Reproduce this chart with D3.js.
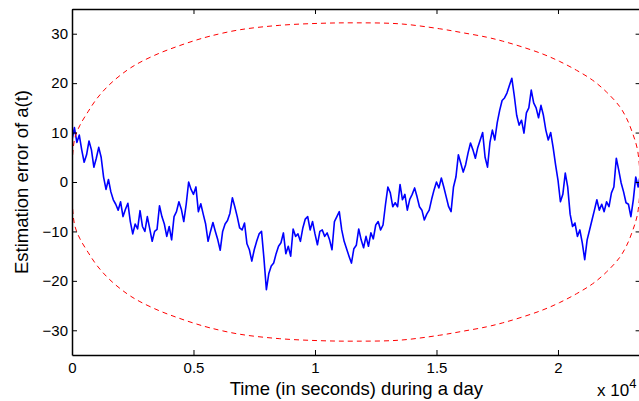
<!DOCTYPE html>
<html>
<head>
<meta charset="utf-8">
<script src="https://d3js.org/d3.v7.min.js"></script>
<style>
  body { margin: 0; background: #fff; }
  svg { display: block; font-family: "Liberation Sans", Arial, sans-serif; }
</style>
</head>
<body>
<svg id="drawing_region"></svg>
<script>
// error samples, one every 100 s from t = 0 to t = 23400
const errStep = 100;
const errValues = [
    8.5, 11.0, 8.0, 9.5, 6.5, 4.0, 5.5, 8.3, 6.5, 3.0,
    4.8, 7.0, 5.0, 1.0, -1.5, 0.5, -2.0, -3.6, -4.5, -5.7,
    -4.0, -7.0, -5.5, -4.3, -8.0, -10.5, -8.5, -9.5, -5.8, -9.0,
    -10.0, -7.0, -9.5, -12.0, -10.0, -9.6, -4.8, -7.0, -8.5, -11.0,
    -9.0, -11.7, -7.0, -6.0, -4.0, -5.5, -8.0, -4.5, 0.0, -1.5,
    -2.5, -1.0, -6.0, -4.4, -6.5, -8.5, -12.0, -10.0, -8.2, -10.0,
    -11.7, -13.8, -10.0, -8.5, -7.8, -6.3, -3.2, -5.0, -7.0, -9.3,
    -9.7, -8.3, -12.5, -13.7, -16.0, -13.7, -12.0, -10.5, -10.0, -15.5,
    -21.8, -18.5, -17.0, -16.4, -14.5, -13.0, -12.3, -10.3, -14.5, -13.0,
    -15.0, -9.5, -11.0, -10.5, -12.0, -9.3, -7.5, -7.0, -9.7, -8.0,
    -10.5, -12.7, -10.0, -9.7, -11.0, -10.3, -11.7, -13.7, -8.0, -7.0,
    -6.0, -9.7, -12.0, -13.5, -15.0, -16.4, -13.5, -12.8, -9.5, -11.7,
    -13.3, -11.0, -13.0, -10.3, -11.5, -8.7, -8.0, -9.7, -8.7, -4.6,
    -1.0, -2.2, -5.0, -4.2, -5.0, -0.5, -3.6, -2.5, -5.7, -3.5,
    -2.5, -1.2, -3.0, -5.0, -5.7, -7.7, -6.5, -5.7, -3.5, -1.6,
    0.0, -1.2, 0.8, -1.0, -3.0, -5.0, -6.0, -1.0, 1.0, 5.5,
    3.8, 2.0, 3.5, 5.9, 7.9, 6.5, 4.8, 7.0, 8.5, 10.0,
    5.0, 3.0, 8.0, 10.5, 8.5, 12.0, 14.5, 16.5, 17.0, 18.0,
    19.5, 21.0, 17.5, 13.5, 11.5, 12.5, 9.9, 14.0, 15.0, 18.6,
    16.0, 15.0, 13.0, 15.5, 13.5, 10.5, 8.5, 10.0, 7.0, 3.5,
    0.4, -4.0, -2.5, 1.8, -1.0, -6.5, -9.0, -8.3, -11.0, -9.7,
    -12.3, -15.7, -11.7, -9.7, -7.7, -5.7, -3.6, -5.7, -4.5, -6.0,
    -4.0, -5.0, -2.2, -1.0, 4.8, 2.4, -0.2, -2.0, -4.2, -4.5,
    -7.0, -3.6, 1.0, -1.0, 1.8
];

// dashed bound (drawn as +bound and -bound)
const boundTimes = [
    0, 20, 123, 329, 658, 1028, 1563, 2262, 2796, 3618,
    4317, 4975, 5674, 6908, 8553, 10197, 11678, 13487, 15132, 16077,
    17064, 17722, 18544, 19367, 20066, 20765, 21423, 21998, 22533, 22821,
    23068, 23273, 23400
];
const boundValues = [
    0, 5.0, 9.0, 11.5, 14.2, 16.9, 19.8, 22.6, 24.2, 26.1,
    27.4, 28.5, 29.5, 30.8, 31.7, 32.1, 32.2, 32.0, 31.0, 30.2,
    29.3, 28.5, 27.3, 25.9, 24.4, 22.6, 20.6, 18.2, 15.3, 12.9,
    9.9, 6.5, 0
];

const xTicks = [0, 5000, 10000, 15000, 20000];
const yTicks = [-30, -20, -10, 0, 10, 20, 30];

class ErrorPlot {

    constructor(config) {
        this.config = config;
        this.init();
    }

    init() {
        let self = this;

        self.svg = d3.select(self.config.parent)
            .attr('width', self.config.width)
            .attr('height', self.config.height);

        self.xscale = d3.scaleLinear()
            .domain([0, 23400])
            .range([self.config.left, self.config.right]);

        self.yscale = d3.scaleLinear()
            .domain([-35, 35])
            .range([self.config.bottom, self.config.top]);

        self.svg.append('clipPath')
            .attr('id', 'plotclip')
            .append('rect')
            .attr('x', self.config.left)
            .attr('y', self.config.top)
            .attr('width', self.config.right - self.config.left)
            .attr('height', self.config.bottom - self.config.top);

        self.plot = self.svg.append('g')
            .attr('clip-path', 'url(#plotclip)');
    }

    render() {
        let self = this;
        const c = self.config;

        const errData = errValues.map((v, i) => ({ t: i * errStep, v: v }));

        const line = d3.line()
            .x(d => self.xscale(d.t))
            .y(d => self.yscale(d.v));

        const upper = boundTimes.map((t, i) => ({ t: t, v: boundValues[i] }));
        const lower = boundTimes.map((t, i) => ({ t: t, v: -boundValues[i] }));

        self.plot.append('path')
            .datum(errData)
            .attr('fill', 'none')
            .attr('stroke', '#0000ff')
            .attr('stroke-width', 1.6)
            .attr('stroke-linejoin', 'round')
            .attr('d', line);

        const curved = d3.line()
            .x(d => self.xscale(d.t))
            .y(d => self.yscale(d.v))
            .curve(d3.curveCatmullRom.alpha(0.5));
        [upper, lower].forEach(b => {
            self.plot.append('path')
                .datum(b)
                .attr('fill', 'none')
                .attr('stroke', '#ff0000')
                .attr('stroke-width', 1)
                .attr('stroke-dasharray', '5,4')
                .attr('d', curved);
        });

        // axes, ticks pointing inwards
        const xfmt = d => d / 10000;
        const xaxis = d3.axisBottom(self.xscale)
            .tickValues(xTicks).tickFormat(xfmt)
            .tickSizeInner(-5).tickSizeOuter(0).tickPadding(7);
        const xaxisTop = d3.axisTop(self.xscale)
            .tickValues(xTicks).tickFormat('')
            .tickSizeInner(-5).tickSizeOuter(0);
        const yaxis = d3.axisLeft(self.yscale)
            .tickValues(yTicks)
            .tickSizeInner(-5).tickSizeOuter(0).tickPadding(4);
        const yaxisRight = d3.axisRight(self.yscale)
            .tickValues(yTicks).tickFormat('')
            .tickSizeInner(-5).tickSizeOuter(0);

        const groups = [
            self.svg.append('g').attr('transform', `translate(0, ${c.bottom})`).call(xaxis),
            self.svg.append('g').attr('transform', `translate(0, ${c.top})`).call(xaxisTop),
            self.svg.append('g').attr('transform', `translate(${c.left}, 0)`).call(yaxis),
            self.svg.append('g').attr('transform', `translate(${c.right}, 0)`).call(yaxisRight)
        ];
        groups.forEach(g => {
            g.selectAll('path').attr('stroke', '#000').attr('stroke-width', 1.5);
            g.selectAll('line').attr('stroke', '#000').attr('stroke-width', 1);
            g.selectAll('text')
                .attr('fill', '#000')
                .attr('font-size', '15px')
                .attr('font-family', '"Liberation Sans", Arial, sans-serif');
        });

        // labels
        self.svg.append('text')
            .attr('x', (c.left + c.right) / 2)
            .attr('y', 395)
            .attr('text-anchor', 'middle')
            .attr('font-size', '18.5px')
            .text(c.xlabel);

        self.svg.append('text')
            .attr('transform', `translate(28, ${(c.top + c.bottom) / 2}) rotate(-90)`)
            .attr('text-anchor', 'middle')
            .attr('font-size', '18.5px')
            .text(c.ylabel);

        const mult = self.svg.append('text')
            .attr('x', 597)
            .attr('y', 396)
            .attr('font-size', '17px')
            .text('x 10');
        mult.append('tspan')
            .attr('dy', -8)
            .attr('font-size', '13px')
            .text('4');
    }
}

const plot = new ErrorPlot({
    parent: '#drawing_region',
    width: 639,
    height: 401,
    left: 72,
    right: 640.6,
    top: 9,
    bottom: 355,
    xlabel: 'Time (in seconds) during a day',
    ylabel: 'Estimation error of a(t)'
});
plot.render();
</script>
</body>
</html>
